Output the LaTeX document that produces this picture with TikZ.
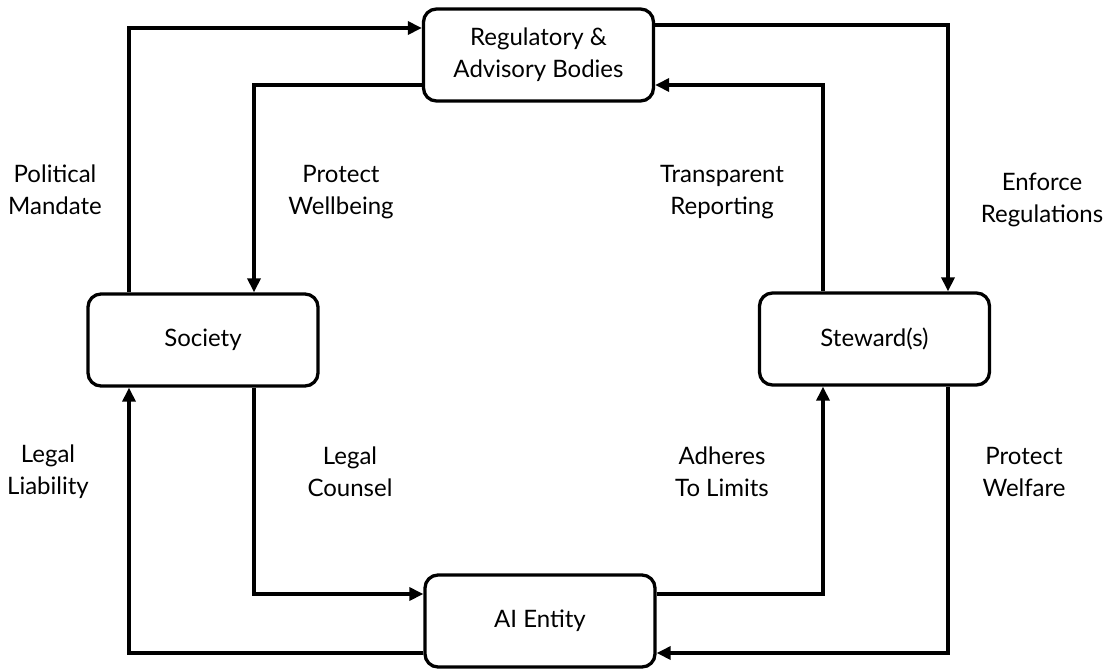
\documentclass[tikz,border=0pt]{standalone}
\usepackage{fontspec}
\setmainfont{Lato}
\usetikzlibrary{arrows.meta}
\begin{document}
\begin{tikzpicture}[x=1pt,y=-1pt,
  every node/.style={font=\fontsize{24}{32}\selectfont},
  entity/.style={draw, line width=3.3pt, rounded corners=13pt,
    minimum width=230pt, minimum height=92pt, align=center, inner sep=0pt},
  flow/.style={line width=3.3pt, -{Triangle[length=14pt,width=13pt]}},
  note/.style={align=center, inner sep=0pt}]
\useasboundingbox (0,0) rectangle (1116,670);

% the four parties
\node[entity] (reg) at (538.5,55) {Regulatory \&\\Advisory Bodies};
\node[entity] (soc) at (203,340) {Society};
\node[entity] (stw) at (874.5,339) {Steward(s)};
\node[entity] (ai)  at (540,621) {AI Entity};

% routing columns and rows
\coordinate (colA) at (129,0);
\coordinate (colB) at (254,0);
\coordinate (colC) at (823,0);
\coordinate (colD) at (948,0);
\coordinate (rowA) at (0,28);
\coordinate (rowB) at (0,85);
\coordinate (rowC) at (0,25);
\coordinate (rowD) at (0,594);
\coordinate (rowE) at (0,653);

% upper loop
\draw[flow] (soc.north -| colA) |- (reg.west |- rowA);
\draw[flow] (reg.west |- rowB) -| (soc.north -| colB);
\draw[flow] (reg.east |- rowC) -| (stw.north -| colD);
\draw[flow] (stw.north -| colC) |- (reg.east |- rowB);

% lower loop
\draw[flow] (soc.south -| colB) |- (ai.west |- rowD);
\draw[flow] (ai.west |- rowE) -| (soc.south -| colA);
\draw[flow] (ai.east |- rowD) -| (stw.south -| colC);
\draw[flow] (stw.south -| colD) |- (ai.east |- rowE);

% labels
\node[note] (l1) at (55,190) {Political\\Mandate};
\node[note] (l2) at (341,192) {Protect\\Wellbeing};
\node[note] (l3) at (722,192) {Transparent\\Reporting};
\node[note] (l4) at (1042,200) {Enforce\\Regulations};
\node[note] (l5) at (48,472) {Legal\\Liability};
\node[note] (l6) at (350,472) {Legal\\Counsel};
\node[note] (l7) at (722,472) {Adheres\\To Limits};
\node[note] (l8) at (1024,472) {Protect\\Welfare};
\end{tikzpicture}
\end{document}
